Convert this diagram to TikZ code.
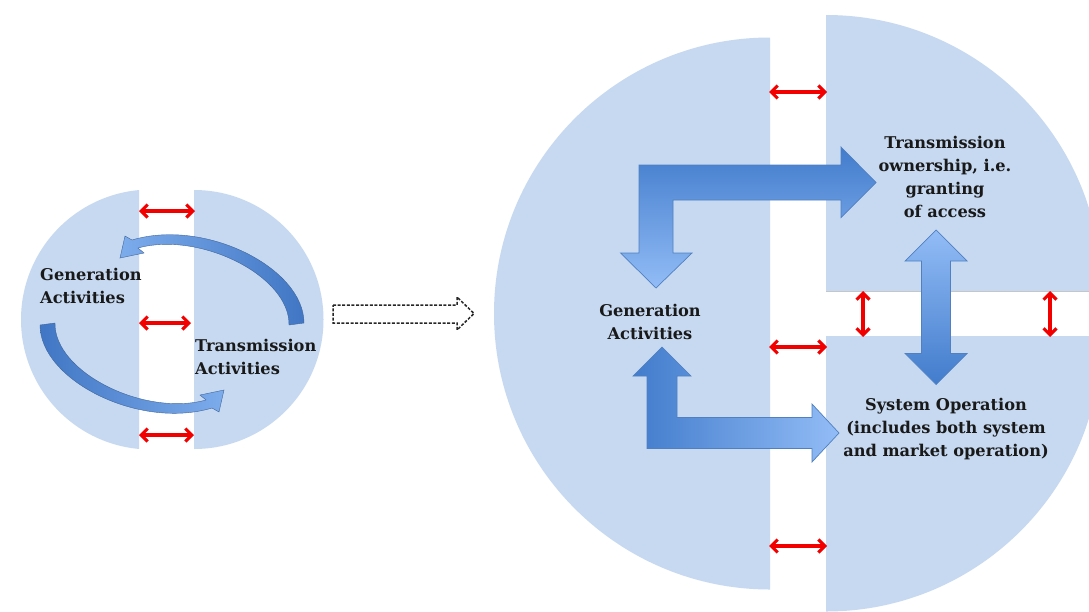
\documentclass[tikz,border=0pt]{standalone}
\usepackage{fontspec}
\setmainfont{DejaVu Serif}
\usetikzlibrary{arrows.meta}

\definecolor{pieceblue}{RGB}{198,217,241}
\definecolor{arrowdark}{RGB}{66,124,204}
\definecolor{arrowlight}{RGB}{146,188,246}
\definecolor{arrowedge}{RGB}{80,128,192}
\definecolor{curvedark}{RGB}{64,118,196}
\definecolor{curvelight}{RGB}{125,172,236}
\definecolor{linkred}{RGB}{242,0,0}

\tikzset{
  piece/.style={fill=pieceblue},
  link/.style={linkred, line width=3.1pt,
    {Straight Barb[length=6.5pt,width=13pt]}-{Straight Barb[length=6.5pt,width=13pt]}},
  txt/.style={font=\fontsize{16.2}{23.3}\selectfont\bfseries, text=black!90,
    align=center, inner sep=0pt},
  bigarrow/.style={draw=arrowedge, line width=0.7pt},
  curvearrow/.style={draw=arrowedge!80!black, line width=0.4pt},
  hollow/.style={draw=black!85, fill=white, line width=1.5pt,
    dash pattern=on 3pt off 1.6pt},
  shade/.style={gray!45, line width=1.6pt}
}

\begin{document}
\begin{tikzpicture}[x=1pt,y=-1pt]
\useasboundingbox (0,0) rectangle (1089,611);
\fill[white] (0,0) rectangle (1089,611);

% ---- small split circle (before) ----
\begin{scope}
  \clip (0,0) rectangle (139,611);
  \fill[piece] (151,319.5) circle[radius=130pt];
\end{scope}
\begin{scope}
  \clip (194,0) rectangle (400,611);
  \fill[piece] (194,319.5) circle[radius=129.5pt];
\end{scope}

% ---- large split circle (after) ----
\begin{scope}
  \clip (0,0) rectangle (770,611);
  \fill[piece] (770,313.5) circle[radius=276pt];
\end{scope}
\begin{scope}
  \clip (826,0) rectangle (1089,290.5);
  \fill[piece] (826,290.5) circle[radius=275.5pt];
\end{scope}
\draw[shade] (826,291.3) -- (1089,291.3);
\begin{scope}
  \clip (826,336) rectangle (1089,611);
  \fill[piece] (826,336) circle[radius=275.5pt];
\end{scope}

% ---- curved arrows inside the small circle ----
\def\curvedshape{(304,323) .. controls (304,268) and (205,218) .. (132,240)
  -- (125,236) -- (120,258) -- (144,253) -- (138,248)
  .. controls (200,231) and (290,276) .. (289,325) -- cycle}
\path[curvearrow, left color=curvelight, right color=curvedark] \curvedshape;
\begin{scope}[rotate around={180:(172,324)}]
  \path[curvearrow, left color=curvedark, right color=curvelight] \curvedshape;
\end{scope}

% ---- hollow transition arrow ----
\draw[hollow] (333,305) -- (457,305) -- (457,297) -- (474,313.5)
  -- (457,330) -- (457,323) -- (333,323) -- cycle;

% ---- block arrows in the large circle ----
\path[bigarrow, top color=arrowdark, bottom color=arrowlight]
  (656,288) -- (692,253) -- (673,253) -- (673,200) -- (841,200)
  -- (841,217.5) -- (876,182.5) -- (841,147) -- (841,165) -- (639,165)
  -- (639,253) -- (620.5,253) -- cycle;
\path[bigarrow, left color=arrowdark, right color=arrowlight]
  (662,347) -- (691,376) -- (677,376) -- (677,417.5) -- (812,417.5)
  -- (812,404) -- (839,433) -- (812,462) -- (812,448.5) -- (647,448.5)
  -- (647,376) -- (633,376) -- cycle;
\path[bigarrow, top color=arrowlight, bottom color=arrowdark]
  (936,230) -- (967,261) -- (950.5,261) -- (950.5,353.5) -- (967,353.5)
  -- (936,384.5) -- (905,353.5) -- (921.5,353.5) -- (921.5,261)
  -- (905,261) -- cycle;

% ---- texts ----
\node[txt, anchor=west, align=left] (genL) at (40,286) {Generation\\Activities};
\node[txt, anchor=west, align=left] (transL) at (195,357) {Transmission\\Activities};
\node[txt] (genR) at (650,322) {Generation\\Activities};
\node[txt] (ownR) at (945,177) {Transmission\\ownership, i.e.\\granting\\of access};
\node[txt] (sysR) at (946,429) {System Operation\\(includes both system\\and market operation)};

% ---- red interface arrows ----
\coordinate (sa1) at (139,211);  \coordinate (sb1) at (195,211);
\coordinate (sa2) at (139,323);  \coordinate (sb2) at (191,323);
\coordinate (sa3) at (139,435);  \coordinate (sb3) at (194,435);
\coordinate (ba1) at (769,92);   \coordinate (bb1) at (827,92);
\coordinate (ba2) at (769,347);  \coordinate (bb2) at (827,347);
\coordinate (ba3) at (769,546);  \coordinate (bb3) at (827,546);
\coordinate (va1) at (863,291);  \coordinate (vb1) at (863,337);
\coordinate (va2) at (1050,291); \coordinate (vb2) at (1050,337);
\foreach \a/\b in {sa1/sb1, sa2/sb2, sa3/sb3, ba1/bb1, ba2/bb2, ba3/bb3, va1/vb1, va2/vb2}
  \draw[link] (\a) -- (\b);
\end{tikzpicture}
\end{document}
